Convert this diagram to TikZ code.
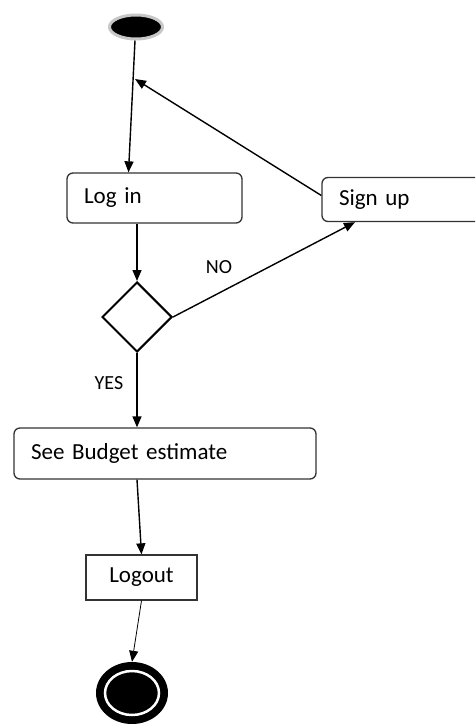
\documentclass[tikz,border=0pt]{standalone}
\usepackage{fontspec}
\setmainfont{Carlito}
\usetikzlibrary{arrows.meta,shapes.geometric}

\begin{document}
\begin{tikzpicture}[x=1pt,y=-1pt,
    box/.style={draw=black!80, line width=1.3pt, rounded corners=6pt, fill=white,
      font=\fontsize{23}{27}\selectfont, inner xsep=17pt, align=left},
    flow/.style={-{Triangle[length=11pt,width=9pt]}, line width=1.4pt},
    lbl/.style={font=\fontsize{20}{23}\selectfont}]
    % Page frame
    \clip (0,0) rectangle (475,727);

    % Start and end states
    \node[ellipse, fill=black, draw=black!22, line width=3pt, minimum width=53pt,
      minimum height=24pt, inner sep=0] (start) at (136,27) {};
    \node[ellipse, fill=black, minimum width=72pt, minimum height=62pt, inner sep=0] (stop) at (132,693) {};
    \node[ellipse, fill=black, draw=white, line width=2.5pt, minimum width=54pt,
      minimum height=44pt, inner sep=0] (stopin) at (stop) {};

    % Activities
    \node[box, text width=141pt, minimum height=50pt] (login) at (154.5,198) {Log in};
    \node[box, text width=134pt, minimum height=44pt] (signup) at (406,199.5) {\raisebox{-4pt}{Sign up}};
    \node[box, text width=268pt, minimum height=51pt] (budget) at (165,453.5) {See Budget estimate};
    \node[draw=black!80, line width=1.3pt, fill=white, font=\fontsize{23}{27}\selectfont,
      minimum width=111pt, minimum height=45pt] (logout) at (141.5,577.5) {Logout};

    % Decision
    \node[diamond, draw, line width=2pt, fill=white, minimum width=70pt,
      minimum height=70pt, inner sep=0] (dec) at (137,317) {};
    \node[lbl] (no) at (219,267) {NO};
    \node[lbl] (yes) at (109,383) {YES};

    % Flow
    \coordinate (back) at (135,79);
    \draw[flow] ([xshift=-1pt]start.south) -- ([xshift=-26pt]login.north);
    \draw[flow] ([yshift=4pt]signup.west) -- (back);
    \draw[flow] (login.south -| dec.north) -- (dec.north);
    \draw[flow] (dec.east) -- ([xshift=-51pt]signup.south);
    \draw[flow] (dec.south) -- (budget.north -| dec.south);
    \draw[flow] ([xshift=-28pt]budget.south) -- (logout.north);
    \draw[flow, line width=0.8pt] (logout.south) -- (stop.north);
\end{tikzpicture}
\end{document}
